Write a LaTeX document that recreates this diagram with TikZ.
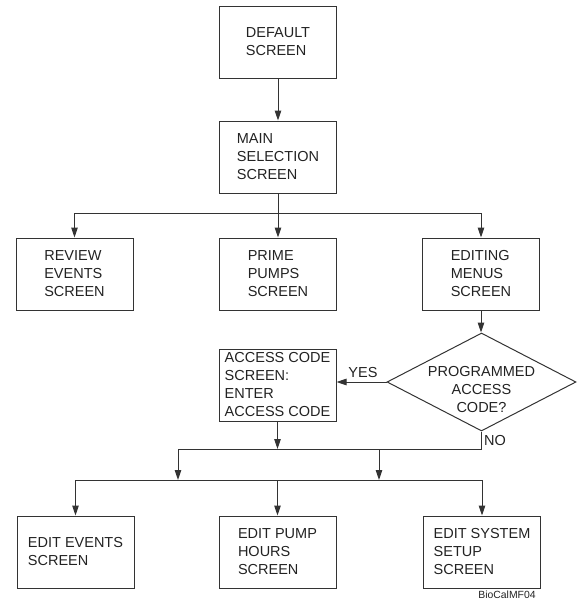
\documentclass[tikz,border=0pt]{standalone}
\usepackage{fontspec}
\setmainfont{Liberation Sans}
\usetikzlibrary{arrows.meta,shapes.geometric}
\definecolor{linec}{HTML}{333333}
\definecolor{txtc}{HTML}{222222}
\begin{document}
\begin{tikzpicture}[x=1pt,y=-1pt,
  box/.style={draw=linec, line width=1pt, minimum width=117pt, minimum height=72pt, inner sep=0pt, align=left, font=\fontsize{14.5}{18}\selectfont, text=txtc},
  lbl/.style={font=\fontsize{14.5}{18}\selectfont, text=txtc, inner sep=0pt},
  conn/.style={draw=linec, line width=1pt},
  arr/.style={conn, -{Triangle[length=10pt,width=6.5pt]}},
]
\useasboundingbox (0,0) rectangle (578,600);
\node[box] (def) at (278,42) {DEFAULT\\SCREEN};
\node[box] (main) at (278,157) {MAIN\\SELECTION\\SCREEN};
\node[box] (rev) at (74.5,274) {REVIEW\\EVENTS\\SCREEN};
\node[box] (prime) at (278,274) {PRIME\\PUMPS\\SCREEN};
\node[box] (edit) at (481,274) {EDITING\\MENUS\\SCREEN};
\node[diamond, draw=linec, line width=1pt, minimum width=189pt, minimum height=98pt, inner sep=0pt] (dec) at (481.5,382) {};
\node[lbl, align=center] (dect) at (481.5,390) {PROGRAMMED\\ACCESS\\CODE?};
\node[box] (acc) at (277.5,385) {ACCESS CODE\\SCREEN:\\ENTER\\ACCESS CODE};
\node[box] (ee) at (75.5,552) {EDIT EVENTS\\SCREEN};
\node[box] (ep) at (277.5,552) {EDIT PUMP\\HOURS\\SCREEN};
\node[box] (es) at (482,552) {EDIT SYSTEM\\SETUP\\SCREEN};
\node[lbl] (yes) at (363,373) {YES};
\node[lbl] (no) at (495,441) {NO};
\node[font=\fontsize{10.4}{12}\selectfont, text=txtc, inner sep=0pt] (fig) at (507,595) {BioCalMF04};

\coordinate (bus1) at (278,213);
\coordinate (j2) at (481.5,449);
\coordinate (l2) at (178,449);
\coordinate (m2) at (379,449);
\coordinate (l3) at (178,480);
\coordinate (m3) at (379,480);
\coordinate (bus3) at (278,480);

\draw[arr] (def) -- (main);
\draw[arr] (main) -- (prime);
\draw[arr] (bus1) -| (rev.north);
\draw[arr] (bus1) -| (edit.north);
\draw[arr] (edit.south) -- (edit.south |- dec.north);
\draw[arr] (dec.west) -- (dec.west -| acc.east);
\draw[conn] (dec.south) -- (j2) -- (l2);
\draw[arr] (acc.south) -- (acc.south |- j2);
\draw[arr] (l2) -- (l3);
\draw[arr] (m2) -- (m3);
\draw[conn] (ee.north |- bus3) -- (es.north |- bus3);
\draw[arr] (ee.north |- bus3) -- (ee.north);
\draw[arr] (ep.north |- bus3) -- (ep.north);
\draw[arr] (es.north |- bus3) -- (es.north);
\end{tikzpicture}
\end{document}
